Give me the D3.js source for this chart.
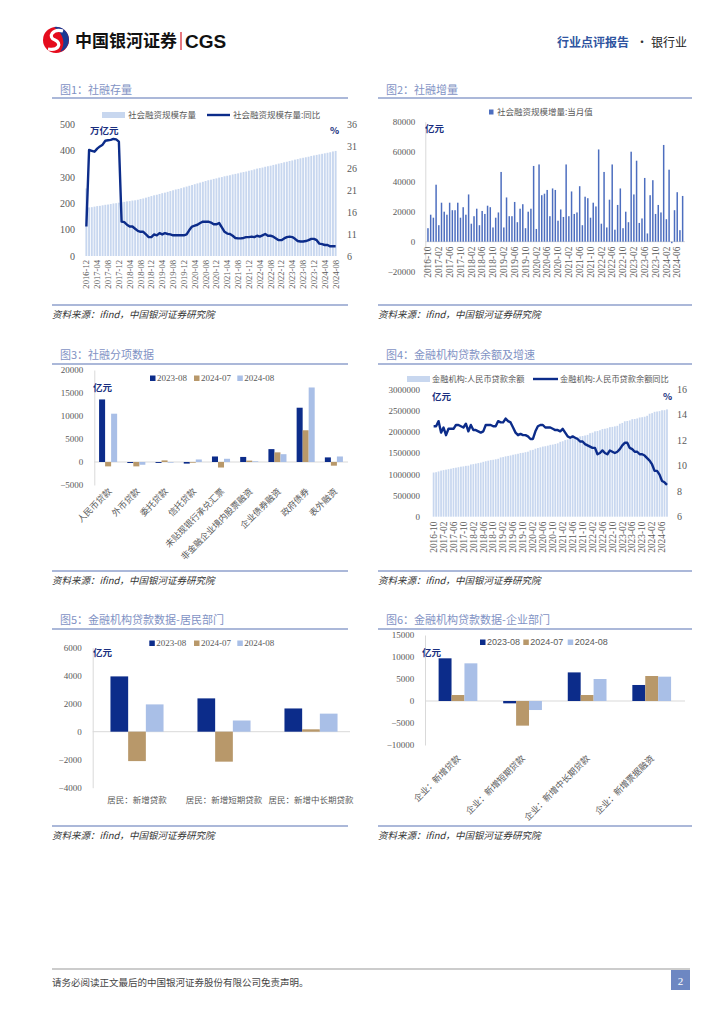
<!DOCTYPE html>
<html>
<head>
<meta charset="utf-8">
<title>银行业 社融数据</title>
<script src="https://d3js.org/d3.v7.min.js"></script>
<style>
  body { margin: 0; background: #fff; }
  .tick text { fill: #595959; }
</style>
</head>
<body>
<script>
// ---------- data ----------
// 图1 社融存量 (2016-12 ~ 2024-08)
var stock1 = [256,
  184,185,187,189,190,192,194,195,197,199,200,202,
  204,205,207,208,210,211,213,216,218,221,224,227,
  230,232,235,238,240,243,246,249,252,254,257,260,
  263,266,269,272,275,278,281,284,287,289,292,294,
  297,299,302,304,306,309,311,313,316,318,320,323,
  325,328,331,333,335,338,340,342,345,347,350,352,
  355,357,360,362,365,367,370,372,374,376,379,381,
  383,385,387,389,391,393,396,398];
var yoy1 = [12.7,
  30.1,29.9,29.7,30.4,30.9,31.3,32.2,32.3,32.4,32.6,32.5,32.0,
  13.8,13.7,13.1,12.7,12.7,12.2,11.7,11.5,11.5,10.9,10.3,10.3,
  10.9,10.7,11.2,10.9,11.2,11.0,10.9,10.7,10.7,10.7,10.7,10.7,
  10.9,11.9,12.7,12.9,13.1,13.5,13.8,13.8,13.8,13.6,13.2,13.2,
  13.5,12.5,11.5,11.1,11.0,10.6,10.1,10.0,10.0,10.1,10.3,10.3,
  10.4,10.3,10.6,10.4,10.7,11.0,10.6,10.6,10.4,10.0,9.6,9.6,
  10.0,10.3,10.4,10.3,9.9,9.4,9.3,9.3,9.4,9.6,9.9,9.9,
  9.6,8.8,8.7,8.5,8.5,8.2,8.2,8.2];

// 图2 社融增量 当月值 (2016-10 ~ 2024-08)
var flow2 = [9000,18000,16000,
  38000,11000,26000,20000,18000,26000,21000,21000,26000,16000,23000,18000,
  31500,12000,17000,22000,11000,20500,18500,24000,23000,9500,16000,19500,
  46500,9500,29500,17000,17000,26500,13000,22000,25000,9000,20000,22000,
  50500,8500,51500,31000,32000,34500,17000,35500,34500,14000,21500,16500,
  51500,17000,33500,18500,19500,37000,11000,30000,29000,16000,26000,23500,
  61500,12000,46500,9500,28000,51500,8000,24500,35500,9000,20000,13000,
  60000,31500,54000,12500,15500,42500,5500,31000,41000,18500,24500,19500,
  64500,15000,48000,-1000,21000,33000,7700,30500];

// 图3 社融分项
var cats3 = ["人民币贷款","外币贷款","委托贷款","信托贷款","未贴现银行承兑汇票",
             "非金融企业境内股票融资","企业债券融资","政府债券","表外融资"];
var s3_2308 = [13600,-220,-200,-350,1200,1100,2800,11800,1000];
var s3_2407 = [-950,-950,350,-150,-1200,300,2100,6900,-800];
var s3_2408 = [10500,-600,-150,550,700,150,1700,16200,1200];

// 图4 金融机构人民币贷款余额及增速 (2016-10 ~ 2024-08)
var loan4 = [1040000,1048000,1066000,
  1086000,1097000,1108000,1119000,1130000,1146000,1154000,1165000,1178000,1185000,1197000,1201000,
  1230000,1238000,1250000,1262000,1273000,1292000,1306000,1319000,1333000,1340000,1352000,1363000,
  1395000,1404000,1421000,1431000,1443000,1459000,1470000,1482000,1499000,1505000,1519000,1531000,
  1564000,1573000,1601000,1618000,1633000,1651000,1660000,1673000,1692000,1699000,1713000,1728000,
  1763000,1777000,1804000,1819000,1834000,1855000,1864000,1876000,1892000,1900000,1913000,1927000,
  1967000,1979000,2010000,2017000,2036000,2064000,2071000,2084000,2109000,2115000,2127000,2140000,
  2189000,2208000,2247000,2254000,2267000,2297000,2300000,2313000,2336000,2343000,2354000,2376000,
  2425000,2439000,2470000,2477000,2486000,2507000,2508000,2527000];
var yoy4 = [13.1,13.1,13.5,
  12.6,13.0,12.4,12.9,12.9,12.9,13.2,13.2,13.1,13.0,13.3,12.7,
  13.2,12.8,12.8,12.7,12.6,12.7,13.2,13.2,13.2,13.1,13.1,13.5,
  13.4,13.4,13.7,13.5,13.4,13.0,12.6,12.4,12.5,12.4,12.4,12.3,
  12.1,12.1,12.7,13.1,13.2,13.2,13.0,13.0,13.0,12.9,12.8,12.8,
  12.7,12.9,12.6,12.3,12.2,12.3,12.2,12.1,11.9,11.9,11.7,11.6,
  11.5,11.4,11.4,10.9,11.0,11.2,11.0,10.9,11.2,11.1,11.0,11.1,
  11.3,11.6,11.8,11.8,11.4,11.3,11.1,11.1,10.9,10.9,10.8,10.6,
  10.4,10.1,9.6,9.6,9.3,8.8,8.7,8.5];

// 图5 居民部门
var cats5 = ["居民：新增贷款","居民：新增短期贷款","居民：新增中长期贷款"];
var s5_2308 = [3950,2380,1660];
var s5_2407 = [-2100,-2140,170];
var s5_2408 = [1950,800,1290];

// 图6 企业部门
var cats6 = ["企业：新增贷款","企业：新增短期贷款","企业：新增中长期贷款","企业：新增票据融资"];
var s6_2308 = [9700,-530,6500,3640];
var s6_2407 = [1360,-5600,1360,5680];
var s6_2408 = [8560,-2050,5000,5530];

var seriesNames = ["2023-08","2024-07","2024-08"];
var ticks1L = [0,100,200,300,400,500], ticks1R = [6,11,16,21,26,31,36];
var ticks2 = [-20000,0,20000,40000,60000,80000];
var ticks3 = [-5000,0,5000,10000,15000,20000];
var ticks4L = [0,500000,1000000,1500000,2000000,2500000,3000000], ticks4R = [6,8,10,12,14,16];
var ticks5 = [-4000,-2000,0,2000,4000,6000];
var ticks6 = [-10000,-5000,0,5000,10000,15000];

// ---------- styles ----------
var SERIF = "'Liberation Serif','Noto Sans CJK SC',serif";
var CJK = "'Noto Sans CJK SC','Noto Sans',sans-serif";
var NAVY = "#0c2c8a", TAN = "#b8986a", LIGHT = "#a9bfe7", PALE = "#c8d7ef", MID = "#4d6ebf";
var RULE = "#8fa1cd", TITLE = "#7f92c4", UNIT = "#1a2f80";
var groupColors = [NAVY, TAN, LIGHT];
var plain = d3.format("d");

var fmtM = d3.timeFormat("%Y-%m");
var months1 = d3.timeMonth.range(new Date(2016,11,1), new Date(2024,8,1)).map(fmtM);
var months2 = d3.timeMonth.range(new Date(2016,9,1), new Date(2024,8,1)).map(fmtM);

var svg = d3.select("body").append("svg")
    .attr("width", 724).attr("height", 1024)
    .style("font-family", SERIF);

// ---------- header / footer ----------
var logo = svg.append("g").attr("transform", "translate(56,40)");
logo.append("circle").attr("r", 13).attr("fill", "#e50c1d");
logo.append("path").attr("d", "M-2,-13 A13,13 0 0 1 13,0 A13,13 0 0 1 4,12 C10,4 8,-6 -2,-13Z").attr("fill", "#1b3a93");
logo.append("path").attr("d", "M7,-9 C-3,-12 -9,-3 -1,0 C6,3 3,11 -8,9")
    .attr("fill", "none").attr("stroke", "#fff").attr("stroke-width", 3.2);
svg.append("text").attr("x", 75).attr("y", 47).text("中国银河证券")
    .style("font-family", CJK).style("font-weight", "bold").style("font-size", "17px").attr("fill", "#111");
svg.append("line").attr("x1", 181).attr("x2", 181).attr("y1", 32).attr("y2", 50)
    .attr("stroke", "#d81e2a").attr("stroke-width", 1.2);
svg.append("text").attr("x", 185).attr("y", 48).text("CGS")
    .style("font-family", "'Liberation Sans',sans-serif").style("font-weight", "bold").style("font-size", "19px").attr("fill", "#111");
svg.append("text").attr("x", 557).attr("y", 47).text("行业点评报告")
    .style("font-family", CJK).style("font-weight", "bold").style("font-size", "12px").attr("fill", "#2f54a0");
svg.append("text").attr("x", 636).attr("y", 47).text("·")
    .style("font-family", CJK).style("font-size", "12px").attr("fill", "#333");
svg.append("text").attr("x", 651).attr("y", 47).text("银行业")
    .style("font-family", CJK).style("font-size", "12px").attr("fill", "#222");

svg.append("line").attr("x1", 52).attr("x2", 690).attr("y1", 969).attr("y2", 969).attr("stroke", "#999");
svg.append("text").attr("x", 52).attr("y", 986).text("请务必阅读正文最后的中国银河证券股份有限公司免责声明。")
    .style("font-family", CJK).style("font-size", "9.5px").attr("fill", "#444");
svg.append("rect").attr("x", 671).attr("y", 970).attr("width", 19).attr("height", 20).attr("fill", "#6d87c2");
svg.append("text").attr("x", 680.5).attr("y", 985).attr("text-anchor", "middle").text("2")
    .style("font-size", "11px").attr("fill", "#fff");

// ---------- panel frames ----------
function panel(x0, x1, yTitle, yRule, yBottom, title) {
  svg.append("text").attr("x", x0 + 8).attr("y", yTitle).text(title)
      .style("font-family", CJK).style("font-size", "11px").attr("fill", TITLE);
  svg.append("line").attr("x1", x0).attr("x2", x1).attr("y1", yRule).attr("y2", yRule)
      .attr("stroke", RULE).attr("stroke-width", 1.5);
  svg.append("line").attr("x1", x0).attr("x2", x1).attr("y1", yBottom).attr("y2", yBottom)
      .attr("stroke", RULE).attr("stroke-width", 1.5);
  svg.append("text").attr("x", x0).attr("y", yBottom + 13).text("资料来源：ifind，中国银河证券研究院")
      .style("font-family", CJK).style("font-size", "9.5px").style("font-style", "italic").attr("fill", "#333");
}
panel(52, 348, 94, 98, 305, "图1：社融存量");
panel(378, 692, 94, 98, 305, "图2：社融增量");
panel(52, 348, 359, 364, 571, "图3：社融分项数据");
panel(378, 692, 359, 364, 571, "图4：金融机构贷款余额及增速");
panel(52, 348, 624, 629, 826, "图5：金融机构贷款数据-居民部门");
panel(378, 692, 624, 629, 826, "图6：金融机构贷款数据-企业部门");

function unitText(x, y, t) {
  svg.append("text").attr("x", x).attr("y", y).text(t)
      .style("font-family", CJK).style("font-weight", "bold").style("font-size", "9.5px").attr("fill", UNIT);
}
function styleAxis(g, size) {
  g.selectAll("text").style("font-size", size + "px").style("font-family", SERIF).attr("fill", "#595959");
  g.select(".domain").attr("stroke", "#d9d9d9");
}
function monthAxis(x, months, y0, off, size) {
  var g = svg.append("g").attr("transform", "translate(0," + y0 + ")")
      .call(d3.axisBottom(x).tickValues(months.filter(function(d, i) { return i % 4 === 0; }))
        .tickSize(0).tickPadding(0));
  g.select(".domain").remove();
  g.selectAll("text").attr("transform", "rotate(-90)").attr("text-anchor", "end")
      .attr("x", -off).attr("y", 0).attr("dy", "0.35em")
      .style("font-size", size + "px").style("font-family", SERIF).attr("fill", "#595959");
}

// ---------- 图1 ----------
(function() {
  var data = months1.map(function(m, i) { return {m: m, s: stock1[i], r: yoy1[i]}; });
  var x = d3.scaleBand().domain(months1).range([84.6, 337.4]).padding(0.3);
  var yL = d3.scaleLinear().domain([0, 500]).range([256, 124]);
  var yR = d3.scaleLinear().domain([6, 36]).range([256, 124]);
  svg.append("g").selectAll("rect").data(data).join("rect")
      .attr("x", function(d) { return x(d.m); }).attr("width", x.bandwidth())
      .attr("y", function(d) { return yL(d.s); }).attr("height", function(d) { return yL(0) - yL(d.s); })
      .attr("fill", PALE);
  svg.append("path").datum(data).attr("fill", "none").attr("stroke", NAVY).attr("stroke-width", 2.4)
      .attr("stroke-linejoin", "round")
      .attr("d", d3.line().x(function(d) { return x(d.m) + x.bandwidth() / 2; }).y(function(d) { return yR(d.r); }));
  var gl = svg.append("g").attr("transform", "translate(78,0)")
      .call(d3.axisLeft(yL).tickValues(ticks1L).tickSize(0).tickPadding(3).tickFormat(plain));
  gl.select(".domain").remove(); styleAxis(gl, 10);
  var gr = svg.append("g").attr("transform", "translate(344,0)")
      .call(d3.axisRight(yR).tickValues(ticks1R).tickSize(0).tickPadding(3).tickFormat(plain));
  gr.select(".domain").remove(); styleAxis(gr, 10);
  monthAxis(x, months1, 256, 4, 8.6);
  unitText(90, 134, "万亿元");
  unitText(330, 134, "%");
  svg.append("rect").attr("x", 102).attr("y", 112).attr("width", 23).attr("height", 6).attr("fill", PALE);
  svg.append("text").attr("x", 128).attr("y", 118).text("社会融资规模存量")
      .style("font-family", CJK).style("font-size", "8.5px").attr("fill", "#595959");
  svg.append("line").attr("x1", 207).attr("x2", 230).attr("y1", 115).attr("y2", 115)
      .attr("stroke", NAVY).attr("stroke-width", 2.4);
  svg.append("text").attr("x", 233).attr("y", 118).text("社会融资规模存量:同比")
      .style("font-family", CJK).style("font-size", "8.5px").attr("fill", "#595959");
})();

// ---------- 图2 ----------
(function() {
  var data = months2.map(function(m, i) { return {m: m, v: flow2[i]}; });
  var x = d3.scaleBand().domain(months2).range([426, 684.6]).padding(0.45);
  var y = d3.scaleLinear().domain([-20000, 80000]).range([271.7, 121.7]);
  var ga = svg.append("g").attr("transform", "translate(425.3,0)")
      .call(d3.axisLeft(y).tickValues(ticks2).tickSize(0).tickSizeOuter(0).tickPadding(10).tickFormat(plain));
  styleAxis(ga, 9);
  svg.append("line").attr("x1", 425).attr("x2", 685).attr("y1", y(0)).attr("y2", y(0)).attr("stroke", "#d9d9d9");
  svg.append("g").selectAll("rect").data(data).join("rect")
      .attr("x", function(d) { return x(d.m); }).attr("width", x.bandwidth())
      .attr("y", function(d) { return y(Math.max(0, d.v)); })
      .attr("height", function(d) { return Math.abs(y(d.v) - y(0)); })
      .attr("fill", MID);
  monthAxis(x, months2, y(0), 5, 9.3);
  unitText(425, 132, "亿元");
  svg.append("rect").attr("x", 489).attr("y", 109.5).attr("width", 4.5).attr("height", 5).attr("fill", MID);
  svg.append("text").attr("x", 497).attr("y", 115).text("社会融资规模增量:当月值")
      .style("font-family", CJK).style("font-size", "8.5px").attr("fill", "#595959");
})();

// ---------- 图4 ----------
(function() {
  var data = months2.map(function(m, i) { return {m: m, s: loan4[i], r: yoy4[i]}; });
  var x = d3.scaleBand().domain(months2).range([432, 668.6]).padding(0.3);
  var yL = d3.scaleLinear().domain([0, 3000000]).range([516.7, 389.3]);
  var yR = d3.scaleLinear().domain([6, 16]).range([516.7, 389.3]);
  svg.append("g").selectAll("rect").data(data).join("rect")
      .attr("x", function(d) { return x(d.m); }).attr("width", x.bandwidth())
      .attr("y", function(d) { return yL(d.s); }).attr("height", function(d) { return yL(0) - yL(d.s); })
      .attr("fill", PALE);
  svg.append("path").datum(data).attr("fill", "none").attr("stroke", NAVY).attr("stroke-width", 2.4)
      .attr("stroke-linejoin", "round")
      .attr("d", d3.line().x(function(d) { return x(d.m) + x.bandwidth() / 2; }).y(function(d) { return yR(d.r); }));
  var gl = svg.append("g").attr("transform", "translate(423,0)")
      .call(d3.axisLeft(yL).tickValues(ticks4L).tickSize(0).tickPadding(3).tickFormat(plain));
  gl.select(".domain").remove(); styleAxis(gl, 9);
  var gr = svg.append("g").attr("transform", "translate(674,0)")
      .call(d3.axisRight(yR).tickValues(ticks4R).tickSize(0).tickPadding(3).tickFormat(plain));
  gr.select(".domain").remove(); styleAxis(gr, 10);
  monthAxis(x, months2, 516.7, 5, 9.3);
  unitText(432, 400, "亿元");
  unitText(663, 400, "%");
  svg.append("rect").attr("x", 407).attr("y", 376).attr("width", 23).attr("height", 6).attr("fill", PALE);
  svg.append("text").attr("x", 432).attr("y", 382).text("金融机构:人民币贷款余额")
      .style("font-family", CJK).style("font-size", "8.2px").attr("fill", "#595959");
  svg.append("line").attr("x1", 533).attr("x2", 558).attr("y1", 379).attr("y2", 379)
      .attr("stroke", NAVY).attr("stroke-width", 2.4);
  svg.append("text").attr("x", 560).attr("y", 382).text("金融机构:人民币贷款余额同比")
      .style("font-family", CJK).style("font-size", "8.2px").attr("fill", "#595959");
})();

// ---------- grouped bar charts ----------
function grouped(o) {
  var rows = o.cats.map(function(c, i) { return {c: c, v: [o.s[0][i], o.s[1][i], o.s[2][i]]}; });
  var x = d3.scaleBand().domain(o.cats).range(o.xr).paddingInner(o.pi).paddingOuter(o.pi / 2);
  var xs = d3.scaleBand().domain([0, 1, 2]).range([0, x.bandwidth()]);
  var y = d3.scaleLinear().domain(o.yd).range(o.yr);
  var ga = svg.append("g").attr("transform", "translate(" + o.ax + ",0)")
      .call(d3.axisLeft(y).tickValues(o.ticks).tickSize(0).tickSizeOuter(0).tickPadding(o.pad).tickFormat(plain));
  styleAxis(ga, 9);
  svg.append("line").attr("x1", o.ax).attr("x2", o.zx).attr("y1", y(0)).attr("y2", y(0)).attr("stroke", "#d9d9d9");
  svg.append("g").selectAll("g").data(rows).join("g")
      .attr("transform", function(d) { return "translate(" + x(d.c) + ",0)"; })
    .selectAll("rect").data(function(d) { return d.v; }).join("rect")
      .attr("x", function(d, i) { return xs(i); }).attr("width", xs.bandwidth())
      .attr("y", function(d) { return y(Math.max(0, d)); })
      .attr("height", function(d) { return Math.abs(y(d) - y(0)); })
      .attr("fill", function(d, i) { return groupColors[i]; });
  var lab = svg.append("g").attr("transform", "translate(0," + o.ly + ")")
      .call(d3.axisBottom(x).tickSize(0).tickPadding(0));
  lab.select(".domain").remove();
  lab.selectAll("text").style("font-family", CJK).style("font-size", o.lsize + "px").attr("fill", "#404040");
  if (o.rotate) {
    lab.selectAll("text").attr("text-anchor", "end").attr("y", 0).attr("dy", 0)
        .attr("transform", "translate(" + o.lx + ",0) rotate(-45)");
  }
  seriesNames.forEach(function(n, i) {
    svg.append("rect").attr("x", o.leg[i]).attr("y", o.legY - 5.5).attr("width", 5.5).attr("height", 5.5)
        .attr("fill", groupColors[i]);
    svg.append("text").attr("x", o.leg[i] + 7).attr("y", o.legY).text(n)
        .style("font-family", o.legFont || SERIF).style("font-size", "9px").attr("fill", "#595959");
  });
  unitText(o.unit[0], o.unit[1], "亿元");
}

grouped({cats: cats3, s: [s3_2308, s3_2407, s3_2408], xr: [94, 348], pi: 0.36,
  yd: [-5000, 20000], yr: [485, 370], ticks: ticks3, ax: 94.3, pad: 11, zx: 348,
  ly: 492, lx: 4, rotate: true, lsize: 8.8, leg: [150, 194, 237.3], legY: 381, unit: [93, 391]});

grouped({cats: cats5, s: [s5_2308, s5_2407, s5_2408], xr: [93.5, 354.5], pi: 0.39,
  yd: [-4000, 6000], yr: [787.7, 647.7], ticks: ticks5, ax: 92.7, pad: 11, zx: 350,
  ly: 797, lx: 0, rotate: false, lsize: 8.5, leg: [149.3, 194, 237.3], legY: 646, unit: [93, 656]});

grouped({cats: cats6, s: [s6_2308, s6_2407, s6_2408], xr: [425.7, 684], pi: 0.4,
  yd: [-10000, 15000], yr: [745, 635], ticks: ticks6, ax: 425, pad: 10.7, zx: 685,
  ly: 759, lx: 3, rotate: true, lsize: 8.8, leg: [480, 523.3, 567.7], legY: 645,
  legFont: "'Liberation Sans',sans-serif", unit: [422, 656]});
</script>
</body>
</html>
